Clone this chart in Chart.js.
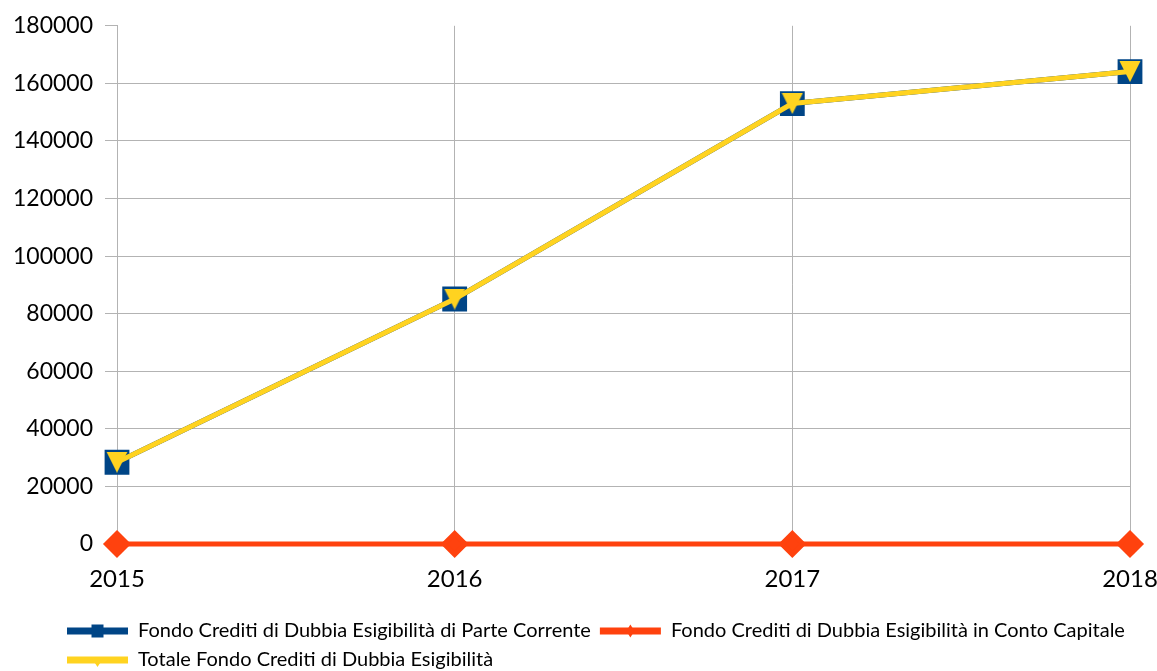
<!DOCTYPE html>
<html>
<head>
<meta charset="utf-8">
<script src="https://cdn.jsdelivr.net/npm/chart.js@4"></script>
<style>
  body { margin: 0; background: #fff; }
  #wrap { width: 1157px; height: 671px; position: relative; }
</style>
</head>
<body>
<div id="wrap"><canvas id="fcde"></canvas></div>
<script>
// dati
var anni = ["2015", "2016", "2017", "2018"];
var parteCorrente = [28400, 85100, 153000, 164100];
var contoCapitale = [0, 0, 0, 0];
var totale = [28400, 85100, 153000, 164100];
var yTicks = [0, 20000, 40000, 60000, 80000, 100000, 120000, 140000, 160000, 180000];

var nomi = [
  "Fondo Crediti di Dubbia Esigibilità di Parte Corrente",
  "Fondo Crediti di Dubbia Esigibilità in Conto Capitale",
  "Totale Fondo Crediti di Dubbia Esigibilità"
];
var colori = ["#004586", "#ff420e", "#ffd320"];
var GRIGIO = "#b3b3b3";

// rw = mezza larghezza, rh = mezza altezza
function marker(ctx, tipo, x, y, rw, rh) {
  ctx.beginPath();
  if (tipo === "rect") {
    ctx.rect(x - rw, y - rh, 2 * rw, 2 * rh);
  } else if (tipo === "rectRot") {
    ctx.moveTo(x - rw, y);
    ctx.lineTo(x, y - rh);
    ctx.lineTo(x + rw, y);
    ctx.lineTo(x, y + rh);
    ctx.closePath();
  } else {
    ctx.moveTo(x - rw, y - rh);
    ctx.lineTo(x + rw, y - rh);
    ctx.lineTo(x, y + rh);
    ctx.closePath();
  }
  ctx.fill();
}

// triangolo rivolto in basso, centrato sul suo riquadro
var triangolo = document.createElement("canvas");
triangolo.width = 22;
triangolo.height = 21;
(function() {
  var c = triangolo.getContext("2d");
  c.fillStyle = colori[2];
  marker(c, "triangle", 11, 10.5, 10.5, 10.5);
})();

// sposta la legenda e disegna i marcatori sopra le sue linee
var legendaLO = {
  id: "legendaLO",
  afterLayout: function(chart) {
    var lg = chart.legend;
    var h = lg.bottom - lg.top;
    lg.left = 58;
    lg.top = 612;
    lg.bottom = 612 + h;
  },
  afterDraw: function(chart) {
    var lg = chart.legend;
    if (!lg || !lg.legendHitBoxes) return;
    var ctx = chart.ctx;
    var bw = lg.options.labels.boxWidth;
    var dim = [[6, 6.5], [4, 6.5], [6.5, 5]];
    var stili = ["rect", "rectRot", "triangle"];
    lg.legendItems.forEach(function(item, i) {
      var hb = lg.legendHitBoxes[i];
      var k = item.datasetIndex;
      var cy = hb.top + hb.height / 2;
      ctx.save();
      ctx.fillStyle = colori[k];
      marker(ctx, stili[k], hb.left + bw / 2, k === 2 ? cy + 2 : cy, dim[k][0], dim[k][1]);
      ctx.restore();
    });
  }
};

new Chart("fcde", {
  type: "line",
  data: {
    labels: anni,
    datasets: [{
      label: nomi[0],
      data: parteCorrente,
      borderColor: colori[0],
      backgroundColor: colori[0],
      borderWidth: 5,
      pointStyle: "rect",
      pointRadius: 14,
      pointHoverRadius: 14,
      clip: false,
      order: 2
    }, {
      label: nomi[1],
      data: contoCapitale,
      borderColor: colori[1],
      backgroundColor: colori[1],
      borderWidth: 5,
      pointStyle: "rectRot",
      pointRadius: 10.5,
      pointHoverRadius: 10.5,
      clip: false,
      order: 0
    }, {
      label: nomi[2],
      data: totale,
      borderColor: colori[2],
      backgroundColor: colori[2],
      borderWidth: 5,
      pointStyle: triangolo,
      clip: false,
      order: 1
    }]
  },
  options: {
    responsive: true,
    maintainAspectRatio: false,
    animation: false,
    layout: { padding: { left: 0, right: 0, top: 24, bottom: 0 } },
    elements: { line: { tension: 0 }, point: { borderWidth: 0 } },
    scales: {
      x: {
        offset: false,
        afterFit: function(scale) {
          scale.height = 59;
          scale.paddingLeft = 0;
          scale.paddingRight = 27;
        },
        grid: { color: GRIGIO, drawTicks: false },
        border: { color: GRIGIO },
        ticks: { color: "#000", padding: 21, maxRotation: 0, font: { family: "Lato", size: 24 } }
      },
      y: {
        min: 0,
        max: 180000,
        afterBuildTicks: function(scale) {
          scale.ticks = yTicks.map(function(v) { return { value: v }; });
        },
        afterFit: function(scale) { scale.width = 117; },
        grid: {
          color: function(c) { return c.tick && c.tick.value === 180000 ? "rgba(0,0,0,0)" : GRIGIO; },
          tickColor: GRIGIO,
          tickLength: 12
        },
        border: { color: GRIGIO },
        ticks: {
          color: "#000",
          padding: 12,
          font: { family: "Lato", size: 23 },
          callback: function(v) { return String(v); }
        }
      }
    },
    plugins: {
      legend: {
        position: "bottom",
        align: "start",
        labels: {
          color: "#000",
          boxWidth: 61,
          boxHeight: 7,
          padding: 9,
          font: { family: "Lato", size: 20 },
          sort: function(a, b) { return a.datasetIndex - b.datasetIndex; },
          generateLabels: function(chart) {
            var items = Chart.defaults.plugins.legend.labels.generateLabels(chart);
            items.forEach(function(it) {
              it.lineWidth = 0;
              it.fillStyle = colori[it.datasetIndex];
              it.pointStyle = undefined;
            });
            return items;
          }
        }
      },
      tooltip: { enabled: false }
    }
  },
  plugins: [legendaLO]
});
</script>
</body>
</html>
